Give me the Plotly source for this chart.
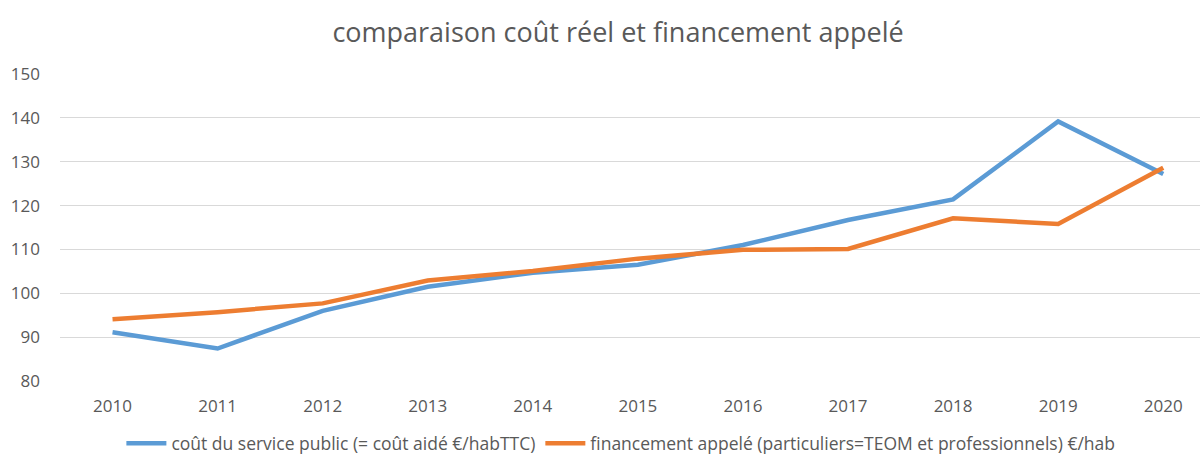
import plotly.graph_objects as go

years = [2010, 2011, 2012, 2013, 2014, 2015, 2016, 2017, 2018, 2019, 2020]
cout_service = [91.1, 87.4, 96.0, 101.5, 104.7, 106.5, 111.0, 116.7, 121.4, 139.2, 127.2]
financement = [94.1, 95.7, 97.7, 102.9, 105.1, 107.9, 109.9, 110.1, 117.1, 115.8, 128.6]
y_ticks = [80, 90, 100, 110, 120, 130, 140, 150]

name_cout = "coût du service public (= coût aidé €/habTTC)"
name_fin = "financement appelé (particuliers=TEOM et professionnels) €/hab"
title_text = "comparaison coût réel et financement appelé"

FONT = "Open Sans, sans-serif"
TXT = "#595959"

fig = go.Figure()
fig.add_trace(go.Scatter(x=years, y=cout_service, mode="lines", name=name_cout,
                         line=dict(color="#5B9BD5", width=4.5)))
fig.add_trace(go.Scatter(x=years, y=financement, mode="lines", name=name_fin,
                         line=dict(color="#ED7D31", width=4.5)))

fig.update_layout(
    width=1200, height=457,
    margin=dict(l=60, r=0, t=74, b=76, autoexpand=False),
    paper_bgcolor="white", plot_bgcolor="white",
    font=dict(family=FONT, color=TXT, size=17),
    title=dict(text=title_text, x=0.515, xanchor="center", y=0.928, yanchor="middle",
               font=dict(family=FONT, size=27, color=TXT)),
    showlegend=True,
    legend=dict(orientation="h", x=0.492, xanchor="center", y=-0.203, yanchor="middle",
                font=dict(family=FONT, size=17.5, color=TXT), itemwidth=40,
                tracegroupgap=0, traceorder="normal"),
    xaxis=dict(range=[2009.5, 2020.35], tickmode="array", tickvals=years,
               ticktext=[str(y) for y in years], showgrid=False, zeroline=False,
               showline=False, ticks="", ticklabelstandoff=13,
               tickfont=dict(family=FONT, size=17, color=TXT)),
    yaxis=dict(range=[80, 150], tickmode="array", tickvals=y_ticks,
               showgrid=True, gridcolor="#D9D9D9", gridwidth=1.3, zeroline=False,
               showline=False, ticks="", ticklabelstandoff=19,
               tickfont=dict(family=FONT, size=17, color=TXT)),
)

fig.write_html("out.html")
